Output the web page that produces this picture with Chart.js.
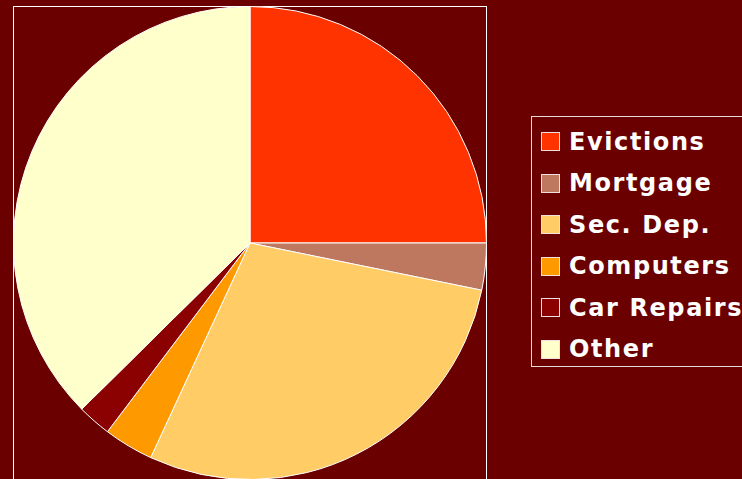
<!DOCTYPE html>
<html>
<head>
<meta charset="utf-8">
<script src="https://cdn.jsdelivr.net/npm/chart.js@4/dist/chart.umd.min.js"></script>
<style>
  html, body { margin: 0; padding: 0; background: #6b0000; overflow: hidden; width: 742px; height: 479px; }
  #frame { position: absolute; left: 13px; top: 6px; width: 474px; height: 480px; border: 1px solid #ffffff; box-sizing: border-box; }
  #wrap { position: absolute; left: 13px; top: 6px; width: 474px; height: 474px; }
  #legend { position: absolute; left: 531px; top: 116px; width: 230px; height: 251px; border: 1px solid #e8d8d8; box-sizing: border-box; padding-top: 4px; }
  .row { height: 41.5px; display: flex; align-items: center; font-family: "DejaVu Sans", Verdana, sans-serif; font-weight: bold; font-size: 24px; letter-spacing: 1.6px; color: #ffffff; white-space: nowrap; }
  .sw { width: 17px; height: 17px; border: 1px solid #f0e0e0; margin-left: 9px; margin-right: 9px; flex: none; }
</style>
</head>
<body>
<div id="frame"></div>
<div id="wrap"><canvas id="myChart"></canvas></div>
<div id="legend"></div>
<script>
var labels = ['Evictions', 'Mortgage', 'Sec. Dep.', 'Computers', 'Car Repairs', 'Other'];
var values = [25, 3.2, 28.7, 3.4, 2.3, 37.4];
var colors = ['#ff3300', '#bf7860', '#ffcc66', '#ff9900', '#8b0000', '#ffffcc'];

function drawLegend() {
    var box = document.getElementById('legend');
    for (var i = 0; i < labels.length; i++) {
        var row = document.createElement('div');
        row.className = 'row';
        var sw = document.createElement('span');
        sw.className = 'sw';
        sw.style.background = colors[i];
        var txt = document.createElement('span');
        txt.textContent = labels[i];
        row.appendChild(sw);
        row.appendChild(txt);
        box.appendChild(row);
    }
}

var ctx = document.getElementById('myChart').getContext('2d');
var chart = new Chart(ctx, {
    type: 'pie',
    data: {
        labels: labels,
        datasets: [{
            data: values,
            backgroundColor: colors,
            borderColor: '#ffffff',
            borderWidth: 1
        }]
    },
    options: {
        responsive: true,
        maintainAspectRatio: false,
        animation: false,
        layout: { padding: 0 },
        plugins: {
            legend: { display: false },
            tooltip: { enabled: false }
        }
    }
});
drawLegend();
</script>
</body>
</html>
